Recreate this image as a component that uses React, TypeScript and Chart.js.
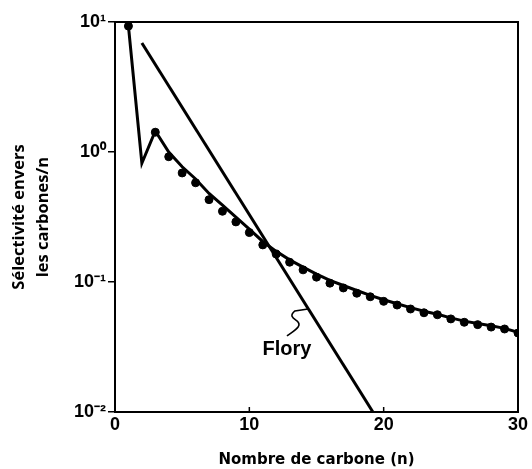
import { useEffect, useRef } from "react";
import { Chart, registerables } from "chart.js";

Chart.register(...registerables);

// ---- data ----
const carbonNumbers = [1, 2, 3, 4, 5, 6, 7, 8, 9, 10, 11, 12, 13, 14, 15, 16, 17, 18, 19, 20, 21, 22, 23, 24, 25, 26, 27, 28, 29, 30];
const measuredSelectivity = [9.3, null, 1.42, 0.92, 0.69, 0.58, 0.43, 0.35, 0.29, 0.24, 0.193, 0.164, 0.142, 0.124, 0.109, 0.098, 0.09, 0.082, 0.077, 0.071, 0.0665, 0.062, 0.058, 0.056, 0.052, 0.049, 0.047, 0.045, 0.0435, 0.0405];
const fittedSelectivity = [9.3, 0.82, 1.45, 1.0, 0.77, 0.62, 0.48, 0.39, 0.315, 0.255, 0.205, 0.172, 0.148, 0.13, 0.115, 0.103, 0.094, 0.086, 0.079, 0.073, 0.068, 0.0635, 0.0595, 0.0565, 0.053, 0.05, 0.048, 0.046, 0.044, 0.041];
const floryN = [2, 19.2];
const floryValues = [6.9, 0.01];
const xTickValues = [0, 10, 20, 30];
const yTickValues = [0.01, 0.1, 1, 10];
const yTickLabels = ["10\u207B\u00B2", "10\u207B\u00B9", "10\u2070", "10\u00B9"];
const floryLabel = "Flory";
const floryLabelAt = { x: 12.8, y: 0.03 };
const xTitle = "Nombre de carbone (n)";
const yTitle = ["Sélectivité envers", "les carbones/n"];

const boxPlugin = {
  id: "boxAndNotes",
  afterDraw(chart: any) {
    const { ctx, chartArea, scales } = chart;
    ctx.save();
    ctx.strokeStyle = "#000";
    ctx.lineWidth = 2;
    ctx.strokeRect(chartArea.left, chartArea.top, chartArea.right - chartArea.left, chartArea.bottom - chartArea.top);
    // inward ticks on x axis
    ctx.lineWidth = 1.5;
    for (const v of xTickValues.slice(1, -1)) {
      const px = scales.x.getPixelForValue(v);
      ctx.beginPath();
      ctx.moveTo(px, chartArea.bottom);
      ctx.lineTo(px, chartArea.bottom - 5);
      ctx.stroke();
    }
    // Flory label
    const lx = scales.x.getPixelForValue(floryLabelAt.x);
    const ly = scales.y.getPixelForValue(floryLabelAt.y);
    ctx.fillStyle = "#000";
    ctx.font = "bold 20px 'Liberation Sans', Arial, sans-serif";
    ctx.textAlign = "center";
    ctx.textBaseline = "middle";
    ctx.fillText(floryLabel, lx, ly);
    // squiggle pointer
    const sx = lx;
    const sy = ly - 14;
    ctx.lineWidth = 1.6;
    ctx.beginPath();
    ctx.moveTo(sx, sy);
    ctx.bezierCurveTo(sx + 8, sy - 6, sx + 16, sy - 10, sx + 10, sy - 15);
    ctx.bezierCurveTo(sx + 6, sy - 18, sx + 2, sy - 20, sx + 8, sy - 25);
    ctx.lineTo(sx + 21, sy - 27);
    ctx.stroke();
    ctx.restore();
  },
};

export default function App() {
  const canvasRef = useRef<HTMLCanvasElement | null>(null);

  useEffect(() => {
    if (!canvasRef.current) return;
    const measured = carbonNumbers.map((n, i) => ({ x: n, y: measuredSelectivity[i] }));
    const fitted = carbonNumbers.map((n, i) => ({ x: n, y: fittedSelectivity[i] }));
    const flory = floryN.map((n, i) => ({ x: n, y: floryValues[i] }));
    const tickFont = { family: "'Liberation Sans', Arial, sans-serif", size: 18, weight: "bold" as const };

    const chart = new Chart(canvasRef.current, {
      type: "scatter",
      data: {
        datasets: [
          {
            label: "Modèle",
            data: fitted,
            showLine: true,
            borderColor: "#000",
            borderWidth: 3,
            pointRadius: 0,
            tension: 0,
          },
          {
            label: "Flory",
            data: flory,
            showLine: true,
            borderColor: "#000",
            borderWidth: 3,
            pointRadius: 0,
          },
          {
            label: "Mesures",
            data: measured,
            showLine: false,
            backgroundColor: "#000",
            borderColor: "#000",
            pointRadius: 4,
          },
        ],
      },
      options: {
        animation: false,
        responsive: false,
        layout: { padding: { left: 0, right: 14, top: 22, bottom: 0 } },
        plugins: { legend: { display: false }, tooltip: { enabled: false } },
        scales: {
          x: {
            type: "linear",
            min: 0,
            max: 30,
            afterBuildTicks: (scale: any) => {
              scale.ticks = xTickValues.map((v) => ({ value: v }));
            },
            afterFit: (scale: any) => {
              scale.height = 57;
            },
            ticks: { color: "#000", font: tickFont, padding: 2, maxRotation: 0 },
            grid: { display: false, drawTicks: false },
            border: { display: false },
            title: {
              display: true,
              text: xTitle,
              color: "#000",
              font: { family: "'DejaVu Sans', sans-serif", size: 15, weight: "bold" },
              padding: { top: 0, bottom: 0 },
            },
          },
          y: {
            type: "logarithmic",
            min: 0.01,
            max: 10,
            afterBuildTicks: (scale: any) => {
              scale.ticks = yTickValues.map((v) => ({ value: v }));
            },
            afterFit: (scale: any) => {
              scale.width = 115;
            },
            ticks: {
              color: "#000",
              font: tickFont,
              padding: 2,
              callback: (_v: any, i: number) => yTickLabels[i],
            },
            grid: { display: true, drawOnChartArea: false, drawTicks: true, tickLength: 7, color: "#000", lineWidth: 1.5 },
            border: { display: false },
            title: {
              display: true,
              text: yTitle,
              color: "#000",
              font: { family: "'Open Sans', sans-serif", size: 16.5, weight: "bold", lineHeight: 1.45 },
              padding: { top: 7, bottom: 0 },
            },
          },
        },
      },
      plugins: [boxPlugin],
    });
    return () => chart.destroy();
  }, []);

  return (
    <div style={{ position: "fixed", left: 0, top: 0, width: 532, height: 469, background: "#fff" }}>
      <canvas ref={canvasRef} width={532} height={469} style={{ width: 532, height: 469 }} />
    </div>
  );
}
